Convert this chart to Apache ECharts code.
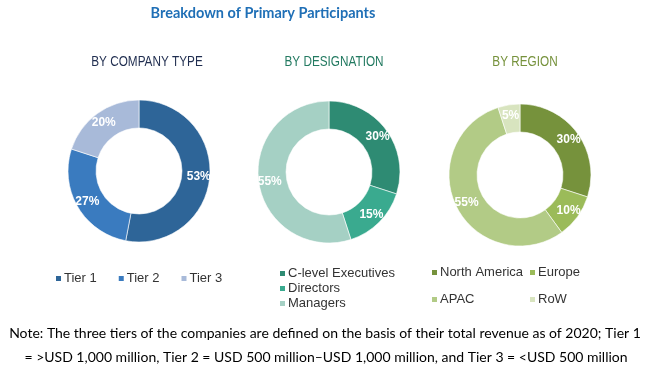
<!DOCTYPE html>
<html>
<head>
<meta charset="utf-8">
<script src="https://cdn.jsdelivr.net/npm/echarts@6/dist/echarts.min.js"></script>
<style>
    html, body { margin: 0; padding: 0; background: #fff; }
    #chart1 { width: 650px; height: 375px; }
</style>
</head>
<body>
<div id="chart1"></div>
<script>
var companyNames = ['Tier 1', 'Tier 2', 'Tier 3']
var companyValues = [53, 27, 20]
var designationNames = ['C-level Executives', 'Directors', 'Managers']
var designationValues = [30, 15, 55]
var regionNames = ['North America', 'Europe', 'APAC', 'RoW']
var regionValues = [30, 10, 55, 5]

var companyColors = ['#2e6598', '#3a7bbf', '#a8bad9']
var designationColors = ['#2e8b73', '#3aaa8f', '#a5d0c4']
var regionColors = ['#76923c', '#9bbb59', '#b2cb86', '#d8e4bf']

function _pieData (names, values, colors) {
    return names.map(function (n, i) {
        return { name: n, value: values[i], itemStyle: { color: colors[i] } }
    })
}

function _pieSeries (name, center, data) {
    return {
        name: name,
        type: 'pie',
        radius: [43, 71],
        center: center,
        startAngle: 90,
        clockwise: true,
        avoidLabelOverlap: false,
        itemStyle: { borderColor: '#fff', borderWidth: 0.6 },
        label: {
            show: true,
            position: 'inside',
            formatter: '{c}%',
            color: '#fff',
            fontSize: 12,
            fontWeight: 'bold',
            fontFamily: '"Liberation Sans", Arial, sans-serif'
        },
        emphasis: { disabled: true },
        data: data
    }
}

function _legend (data, left, top, orient, itemGap) {
    return {
        data: data,
        left: left,
        top: top,
        orient: orient,
        icon: 'rect',
        itemWidth: 7,
        itemHeight: 7,
        itemGap: itemGap,
        padding: 0,
        selectedMode: false,
        textStyle: {
            color: '#333',
            fontSize: 13,
            lineHeight: 15,
            padding: [0, 0, 0, -3],
            fontFamily: '"Liberation Sans", Arial, sans-serif'
        }
    }
}

// 文字: 居中放置，scaleX 用来模拟窄体字
function _text (str, x, y, size, color, weight, family, sx) {
    return {
        type: 'text',
        x: x,
        y: y,
        scaleX: sx || 1,
        style: {
            text: str,
            fill: color,
            font: (weight || 'normal') + ' ' + size + 'px ' + family,
            textAlign: 'center',
            textVerticalAlign: 'middle'
        }
    }
}

function _initChart () {
    var myChart = echarts.init(document.getElementById('chart1'))
    var sans = '"Liberation Sans", Arial, sans-serif'
    var option = {
        animation: false,
        graphic: [
            _text('Breakdown of Primary Participants', 263, 13, 14.5, '#1f6fb6', 'bold', 'Lato, sans-serif'),
            _text('BY COMPANY TYPE', 147, 62, 14, '#1f2d4f', 'normal', sans, 0.84),
            _text('BY DESIGNATION', 334, 62, 14, '#237a61', 'normal', sans, 0.84),
            _text('BY REGION', 525, 62, 14, '#76923c', 'normal', sans, 0.84),
            _text('Note: The three tiers of the companies are defined on the basis of their total revenue as of 2020; Tier 1', 325, 333, 14, '#000', 'normal', 'Lato, sans-serif'),
            _text('= >USD 1,000 million, Tier 2 = USD 500 million\u2013USD 1,000 million, and Tier 3 = <USD 500 million', 326, 357, 14, '#000', 'normal', 'Lato, sans-serif')
        ],
        legend: [
            _legend(companyNames, 54, 271, 'horizontal', 20),
            _legend(designationNames, 278, 266, 'vertical', 0),
            _legend(['North America', 'APAC'], 430, 265, 'vertical', 12),
            _legend(['Europe', 'RoW'], 528, 265, 'vertical', 12)
        ],
        series: [
            _pieSeries('By Company Type', [139, 171], _pieData(companyNames, companyValues, companyColors)),
            _pieSeries('By Designation', [329, 172], _pieData(designationNames, designationValues, designationColors)),
            _pieSeries('By Region', [520, 175], _pieData(regionNames, regionValues, regionColors))
        ]
    }
    myChart.setOption(option)
}

_initChart()
</script>
</body>
</html>
